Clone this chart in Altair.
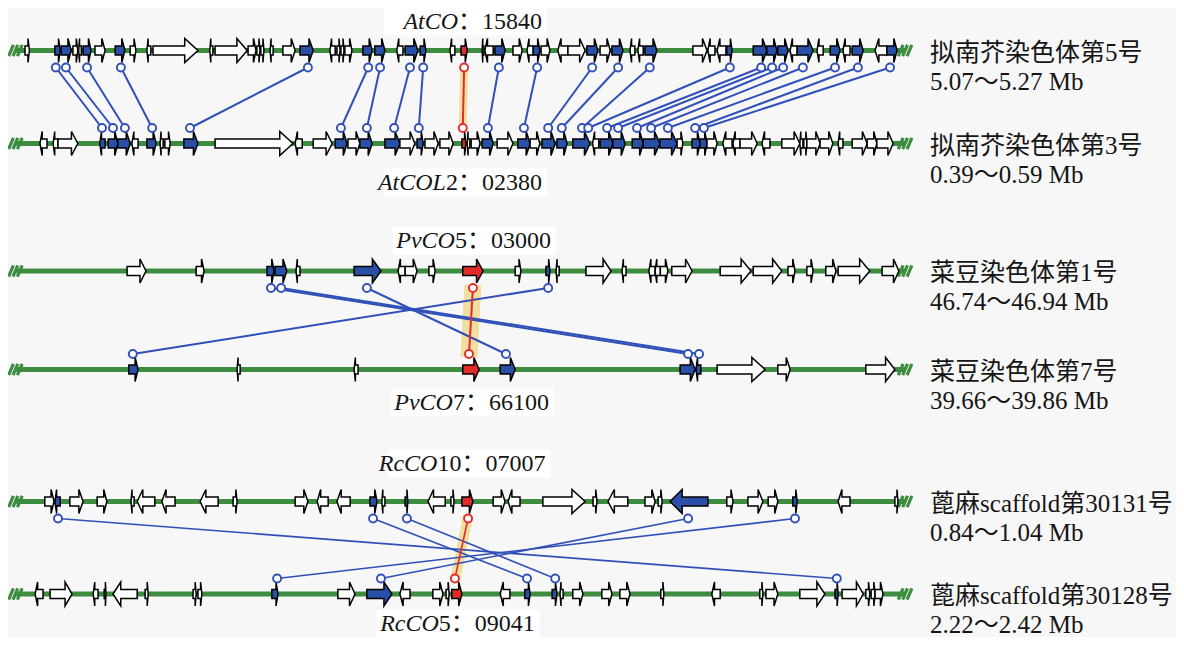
import re
import altair as alt
import pandas as pd

# ---------------- data (positions in kb inside each 200 kb window) ----------------
TRACK_NAMES = ["拟南芥染色体第5号", "拟南芥染色体第3号", "菜豆染色体第1号",
               "菜豆染色体第7号", "蓖麻scaffold第30131号", "蓖麻scaffold第30128号"]
TRACK_RANGES = ["5.07～5.27 Mb", "0.39～0.59 Mb", "46.74～46.94 Mb",
                "39.66～39.86 Mb", "0.84～1.04 Mb", "2.22～2.42 Mb"]

# gene = (start kb, end kb, strand, kind) ; kind: w = other, b = syntenic, r = CO gene
AT5_GENES = [
    (0.0, 1.0, '+', 'w'), (6.8, 8.0, '+', 'b'), (8.2, 10.5, '+', 'b'), (10.9, 12.0, '+', 'w'),
    (12.2, 12.8, '-', 'w'), (13.2, 15.0, '+', 'b'), (15.9, 18.2, '+', 'w'), (20.5, 22.7, '+', 'b'),
    (23.9, 25.2, '+', 'w'), (27.7, 28.6, '-', 'w'), (29.1, 39.3, '+', 'w'), (42.0, 42.7, '-', 'w'),
    (43.2, 50.5, '+', 'w'), (50.7, 52.5, '+', 'w'), (52.7, 53.4, '+', 'w'), (53.6, 54.3, '+', 'w'),
    (55.7, 56.4, '-', 'w'), (58.6, 61.4, '+', 'w'), (62.5, 65.5, '+', 'b'), (69.3, 70.5, '-', 'w'),
    (70.9, 71.6, '+', 'w'), (71.8, 72.5, '+', 'w'), (72.7, 74.3, '+', 'w'), (76.8, 78.9, '+', 'b'),
    (79.5, 81.8, '+', 'b'), (84.5, 85.9, '-', 'w'), (86.4, 89.3, '+', 'b'), (89.8, 91.1, '+', 'b'),
    (96.6, 97.7, '-', 'w'), (99.1, 100.5, '+', 'r'), (103.9, 104.3, '-', 'w'), (104.5, 106.4, '-', 'w'),
    (106.8, 109.1, '+', 'b'), (110.9, 113.0, '+', 'w'), (114.1, 115.5, '-', 'w'), (115.5, 117.0, '+', 'b'),
    (117.3, 119.3, '+', 'w'), (121.1, 123.4, '-', 'w'), (123.4, 127.3, '+', 'w'), (127.7, 130.2, '+', 'b'),
    (130.7, 133.0, '+', 'w'), (133.4, 135.9, '+', 'b'), (137.5, 138.6, '-', 'w'), (139.3, 140.5, '-', 'w'),
    (140.9, 143.6, '+', 'b'), (151.8, 155.0, '+', 'w'), (155.2, 156.8, '-', 'w'), (157.3, 159.3, '-', 'w'),
    (159.5, 160.7, '+', 'b'), (165.5, 168.6, '+', 'b'), (168.6, 170.9, '+', 'b'), (171.1, 173.4, '+', 'b'),
    (173.9, 175.5, '-', 'w'), (175.5, 179.1, '+', 'b'), (180.0, 181.4, '-', 'w'), (183.0, 185.2, '+', 'b'),
    (185.9, 187.5, '-', 'w'), (188.0, 190.5, '+', 'b'), (193.2, 195.9, '-', 'w'), (195.9, 198.2, '+', 'b'),
]
AT3_GENES = [
    (3.4, 5.0, '-', 'w'), (6.4, 7.5, '-', 'w'), (7.5, 12.0, '+', 'w'), (17.0, 18.2, '-', 'b'),
    (18.9, 21.1, '+', 'b'), (21.1, 23.9, '+', 'b'), (24.3, 25.7, '-', 'w'), (27.7, 29.8, '+', 'b'),
    (30.7, 31.4, '-', 'w'), (31.8, 33.0, '+', 'w'), (36.1, 39.3, '+', 'b'), (43.2, 60.9, '+', 'w'),
    (61.4, 63.0, '-', 'w'), (65.5, 69.8, '+', 'w'), (70.5, 73.2, '+', 'b'), (73.4, 76.1, '+', 'w'),
    (76.1, 78.9, '+', 'b'), (81.8, 85.2, '+', 'b'), (85.2, 88.6, '+', 'w'), (89.1, 90.5, '+', 'b'),
    (90.9, 93.9, '+', 'w'), (94.3, 97.3, '+', 'w'), (99.3, 100.2, '+', 'r'), (100.5, 101.1, '-', 'w'),
    (101.4, 103.4, '+', 'w'), (103.9, 106.4, '+', 'b'), (107.3, 110.9, '+', 'w'), (112.0, 114.8, '+', 'b'),
    (114.8, 117.0, '+', 'w'), (117.5, 120.5, '+', 'b'), (120.9, 123.2, '+', 'b'), (124.5, 128.4, '+', 'b'),
    (129.0, 130.4, '-', 'w'), (130.7, 133.6, '+', 'b'), (133.6, 136.4, '+', 'b'), (138.0, 140.5, '+', 'b'),
    (140.5, 144.3, '+', 'b'), (144.3, 148.2, '+', 'b'), (148.2, 149.5, '+', 'w'), (151.6, 153.4, '+', 'b'),
    (153.4, 155.0, '+', 'b'), (155.0, 157.3, '+', 'w'), (158.6, 160.7, '-', 'w'), (160.9, 162.5, '-', 'w'),
    (162.5, 166.4, '+', 'w'), (167.5, 169.3, '-', 'w'), (172.0, 176.1, '+', 'w'), (176.1, 176.8, '-', 'w'),
    (177.0, 177.7, '+', 'w'), (177.7, 180.7, '+', 'w'), (180.7, 183.6, '+', 'w'), (184.8, 185.9, '-', 'w'),
    (188.0, 191.4, '+', 'w'), (191.4, 193.6, '+', 'w'), (193.6, 197.3, '+', 'w'),
]
PV1_GENES = [
    (23.2, 27.5, '+', 'w'), (38.9, 40.7, '+', 'w'), (55.0, 56.6, '+', 'b'), (56.8, 59.5, '+', 'b'),
    (61.6, 62.5, '-', 'w'), (74.8, 80.9, '+', 'b'), (84.8, 86.4, '-', 'w'), (86.4, 89.1, '+', 'w'),
    (91.8, 93.2, '+', 'w'), (99.5, 104.1, '+', 'r'), (111.4, 112.7, '+', 'w'), (118.4, 119.3, '+', 'b'),
    (120.7, 121.4, '-', 'w'), (127.5, 133.2, '+', 'w'), (135.7, 136.6, '-', 'w'), (141.8, 143.2, '-', 'w'),
    (143.2, 144.4, '-', 'w'), (144.4, 146.1, '+', 'w'), (147.0, 151.6, '+', 'w'), (158.0, 165.0, '+', 'w'),
    (165.5, 172.0, '+', 'w'), (173.4, 175.0, '+', 'w'), (177.7, 179.1, '+', 'w'), (182.0, 184.3, '+', 'w'),
    (184.8, 192.0, '+', 'w'), (194.8, 198.6, '+', 'w'),
]
PV7_GENES = [
    (23.6, 25.7, '+', 'b'), (48.2, 48.9, '-', 'w'), (74.8, 75.7, '-', 'w'), (99.5, 103.2, '+', 'r'),
    (108.0, 111.4, '+', 'b'), (148.9, 152.3, '+', 'b'), (152.5, 153.6, '-', 'b'), (157.3, 168.2, '+', 'w'),
    (171.1, 173.9, '+', 'w'), (191.1, 197.7, '+', 'w'),
]
RC31_GENES = [
    (4.5, 6.6, '+', 'w'), (6.8, 8.0, '-', 'b'), (10.2, 13.2, '+', 'w'), (16.4, 18.6, '+', 'w'),
    (24.1, 24.8, '-', 'w'), (25.5, 29.5, '-', 'w'), (31.1, 34.1, '-', 'w'), (39.8, 43.9, '-', 'w'),
    (47.3, 48.2, '+', 'w'), (61.4, 64.3, '+', 'w'), (66.4, 68.9, '-', 'w'), (70.9, 73.9, '-', 'w'),
    (78.4, 80.0, '+', 'b'), (81.1, 81.8, '-', 'w'), (86.4, 87.0, '+', 'b'), (91.6, 95.5, '-', 'w'),
    (96.8, 97.5, '+', 'w'), (99.3, 101.8, '+', 'r'), (106.4, 109.1, '+', 'w'), (109.8, 112.5, '-', 'w'),
    (117.7, 127.3, '+', 'w'), (129.1, 130.0, '+', 'w'), (132.5, 137.0, '-', 'w'), (140.9, 143.2, '+', 'w'),
    (143.9, 144.8, '+', 'w'), (146.6, 155.2, '-', 'b'), (159.5, 160.9, '+', 'w'), (164.3, 167.7, '+', 'w'),
    (168.9, 171.1, '+', 'w'), (174.5, 175.5, '+', 'b'), (184.8, 187.5, '-', 'w'), (197.7, 198.4, '+', 'w'),
]
RC28_GENES = [
    (2.3, 4.1, '-', 'w'), (5.7, 10.7, '+', 'w'), (15.5, 16.6, '-', 'w'), (18.0, 18.4, '+', 'w'),
    (20.0, 25.5, '-', 'w'), (27.3, 28.0, '+', 'w'), (38.2, 38.9, '+', 'w'), (39.3, 40.2, '+', 'w'),
    (56.1, 57.5, '+', 'b'), (71.1, 75.0, '+', 'w'), (77.7, 83.4, '+', 'b'), (85.2, 87.5, '-', 'w'),
    (92.7, 95.0, '+', 'w'), (95.7, 96.4, '+', 'w'), (97.0, 99.3, '+', 'r'), (108.0, 110.2, '-', 'w'),
    (113.6, 114.8, '+', 'b'), (119.8, 120.9, '+', 'b'), (121.6, 122.3, '-', 'w'), (124.5, 126.8, '+', 'w'),
    (131.1, 133.4, '+', 'w'), (135.2, 137.5, '+', 'w'), (144.5, 145.2, '+', 'w'), (156.1, 158.0, '-', 'w'),
    (167.0, 167.7, '+', 'w'), (168.4, 171.1, '+', 'w'), (176.1, 181.8, '+', 'w'), (184.1, 184.8, '+', 'b'),
    (185.7, 190.5, '+', 'w'), (191.1, 192.0, '+', 'w'), (192.3, 193.2, '+', 'w'), (193.2, 195.0, '+', 'w'),
]
TRACK_GENES = [AT5_GENES, AT3_GENES, PV1_GENES, PV7_GENES, RC31_GENES, RC28_GENES]

# syntenic links (kb on upper track, kb on lower track)
AT_LINKS = [(7.0, 17.5), (9.3, 20.0), (14.1, 22.7), (21.8, 28.9), (64.3, 37.5), (78.0, 71.8),
            (80.7, 77.7), (87.5, 83.9), (90.5, 89.5), (107.7, 105.2), (116.4, 113.4), (128.9, 118.9),
            (134.8, 122.0), (142.0, 126.6), (160.2, 128.0), (167.3, 132.3), (169.8, 134.8),
            (172.3, 139.1), (176.8, 142.3), (184.1, 146.1), (189.3, 152.3), (196.6, 154.3)]
PV_LINKS = [(55.9, 150.7), (58.2, 153.2), (77.7, 109.3), (118.9, 24.5)]
RC_LINKS = [(7.5, 184.5), (79.1, 114.1), (86.8, 120.5), (150.7, 80.9), (175.0, 57.3)]
CO_LINKS = [(99.8, 99.5), (101.8, 100.9), (100.7, 97.7)]
PAIR_LINKS = [AT_LINKS, PV_LINKS, RC_LINKS]

GENE_NAMES = ["AtCO", "AtCOL2", "PvCO5", "PvCO7", "RcCO10", "RcCO5"]
GENE_IDS = ["15840", "02380", "03000", "66100", "07007", "09041"]

# ---------------- layout & style ----------------
W, H = 1168, 629
PX_PER_KB = 4.4
KB0_PX = 17.0
KB = 1.0 / PX_PER_KB                      # kb per pixel
X_DOM = [-KB0_PX * KB, (W - KB0_PX) * KB]
TRACK_Y = [42.5, 135.5, 263.0, 361.5, 493.5, 586.0]
LABEL_DY = [-29.0, 39.0, -30.0, 33.0, -38.0, 30.0]
RANGE_DY = 31.0
BODY_H, HEAD_H = 4.5, 12.0
TOP_OFF, BOT_OFF = 17.0, 15.5
LINK_W = [2.0, 2.0, 1.6]
HILITE_W = [8.0, 17.0, 10.0]

GREEN = "#3d8c40"
BLUE_FILL = "#2a4fa6"
BLUE_LINE = "#3050b8"
RED = "#e32b2b"
YELLOW = "#f0dc96"
TXT = "#151515"
FONT = "Liberation Serif, Noto Sans CJK SC"
FILL = {'w': "#ffffff", 'b': BLUE_FILL, 'r': RED}

xs = alt.Scale(domain=X_DOM, nice=False, zero=False)
ys = alt.Scale(domain=[0, H], nice=False, zero=False, reverse=True)


def X(f):
    return alt.X(f, type="quantitative", scale=xs, axis=None)


def Y(f):
    return alt.Y(f, type="quantitative", scale=ys, axis=None, stack=None)


# ---------------- tables ----------------
gene_rows = []
gid = 0
for t, genes in enumerate(TRACK_GENES):
    y0 = TRACK_Y[t]
    for (s, e, strand, kind) in genes:
        L = e - s
        h = min(0.32 * L, 3.0)
        eps = 0.002
        if strand == '+':
            pts = [(s, BODY_H), (e - h - eps, BODY_H), (e - h, HEAD_H), (e, 0.0)]
        else:
            pts = [(s, 0.0), (s + h, HEAD_H), (s + h + eps, BODY_H), (e, BODY_H)]
        for i, (x, d) in enumerate(pts):
            gene_rows.append(dict(gid=gid, x=x, ya=y0 - d, yb=y0 + d, col=FILL[kind], o=i))
        gid += 1
genes_df = pd.DataFrame(gene_rows)

chrom_df = pd.DataFrame([dict(x=-2.0, x2=200.0, y=y) for y in TRACK_Y])
hash_df = pd.DataFrame([dict(x=xx, y=y) for y in TRACK_Y for xx in (-2.0, 200.2)])

link_rows, circ_rows, hl_rows = [], [], []
for p, links in enumerate(PAIR_LINKS):
    yt = TRACK_Y[2 * p] + TOP_OFF
    yb = TRACK_Y[2 * p + 1] - BOT_OFF
    for (a, b) in links:
        link_rows.append(dict(x=a, x2=b, y=yt, y2=yb, col=BLUE_LINE, sw=LINK_W[p], z=0))
        circ_rows += [dict(x=a, y=yt, col=BLUE_LINE), dict(x=b, y=yb, col=BLUE_LINE)]
    a, b = CO_LINKS[p]
    link_rows.append(dict(x=a, x2=b, y=yt, y2=yb, col=RED, sw=LINK_W[p], z=1))
    circ_rows += [dict(x=a, y=yt, col=RED), dict(x=b, y=yb, col=RED)]
    hl_rows.append(dict(x=a, x2=b, y=yt - 3, y2=yb + 3, sw=HILITE_W[p]))
links_df = pd.DataFrame(link_rows)
circ_df = pd.DataFrame(circ_rows)
hl_df = pd.DataFrame(hl_rows)

lab_rows = []
for t in range(6):
    lab_rows.append(dict(x=205.7, y=TRACK_Y[t] + 2, text=TRACK_NAMES[t]))
    lab_rows.append(dict(x=205.7, y=TRACK_Y[t] + RANGE_DY, text=TRACK_RANGES[t]))
lab_df = pd.DataFrame(lab_rows)

gl_rows = []
for t in range(6):
    red = [g for g in TRACK_GENES[t] if g[3] == 'r'][0]
    rc = (red[0] + red[1]) / 2
    right = rc + 78 * KB
    m = re.match(r"([A-Za-z]+)(\d*)", GENE_NAMES[t])
    letters, digits = m.group(1), m.group(2)
    reg = digits + "：" + GENE_IDS[t]
    reg_w = 24 + 12 * (len(digits) + len(GENE_IDS[t]))
    gl_rows.append(dict(xi=right - reg_w * KB, xr=right, y=TRACK_Y[t] + LABEL_DY[t],
                        it=letters, rg=reg, bx0=right - 158 * KB, bx1=right + 5 * KB,
                        by0=TRACK_Y[t] + LABEL_DY[t] - 14, by1=TRACK_Y[t] + LABEL_DY[t] + 14))
gl_df = pd.DataFrame(gl_rows)

# ---------------- layers ----------------
boxes = alt.Chart(gl_df).mark_rect(color="#ffffff").encode(
    x=X("bx0"), x2="bx1", y=Y("by0"), y2="by1")

chrom = alt.Chart(chrom_df).mark_rule(color=GREEN, strokeWidth=5).encode(
    x=X("x"), x2="x2", y=Y("y"))

HASH_PATH = "M-0.95,0.7L-0.35,-0.7M-0.4,0.7L0.2,-0.7M0.15,0.7L0.75,-0.7"
hashes = alt.Chart(hash_df).mark_point(shape=HASH_PATH, filled=False, stroke=GREEN,
                                       strokeWidth=3.2, size=256, opacity=1).encode(
    x=X("x"), y=Y("y"))

hilite = alt.Chart(hl_df).mark_rule(color=YELLOW, opacity=0.9, strokeCap="butt").encode(
    x=X("x"), x2="x2", y=Y("y"), y2="y2",
    strokeWidth=alt.StrokeWidth("sw:Q", scale=None))

links = alt.Chart(links_df).mark_rule().encode(
    x=X("x"), x2="x2", y=Y("y"), y2="y2",
    color=alt.Color("col:N", scale=None),
    strokeWidth=alt.StrokeWidth("sw:Q", scale=None),
    order=alt.Order("z:Q"))

genes = alt.Chart(genes_df).mark_area(stroke="black", strokeWidth=1.5, interpolate="linear",
                                      opacity=1).encode(
    x=X("x"), y=Y("ya"), y2="yb",
    detail="gid:N",
    fill=alt.Fill("col:N", scale=None))

circles = alt.Chart(circ_df).mark_point(shape="circle", filled=True, fill="white",
                                        strokeWidth=1.9, size=64, opacity=1).encode(
    x=X("x"), y=Y("y"),
    stroke=alt.Stroke("col:N", scale=None))

labels = alt.Chart(lab_df).mark_text(font=FONT, fontSize=25, align="left",
                                     baseline="middle", color=TXT).encode(
    x=X("x"), y=Y("y"), text="text:N")

gl_it = alt.Chart(gl_df).mark_text(font=FONT, fontSize=24, fontStyle="italic", align="right",
                                   baseline="middle", color=TXT).encode(
    x=X("xi"), y=Y("y"), text="it:N")
gl_rg = alt.Chart(gl_df).mark_text(font=FONT, fontSize=24, align="right",
                                   baseline="middle", color=TXT).encode(
    x=X("xr"), y=Y("y"), text="rg:N")

chart = alt.layer(boxes, chrom, hashes, hilite, links, genes, circles, labels, gl_it, gl_rg).properties(
    width=W, height=H, padding=0, background="#f7f7f7",
    autosize=alt.AutoSizeParams(type="none"),
).configure_view(strokeWidth=0)

chart.save("out.html", embed_options={"renderer": "svg", "actions": False})
